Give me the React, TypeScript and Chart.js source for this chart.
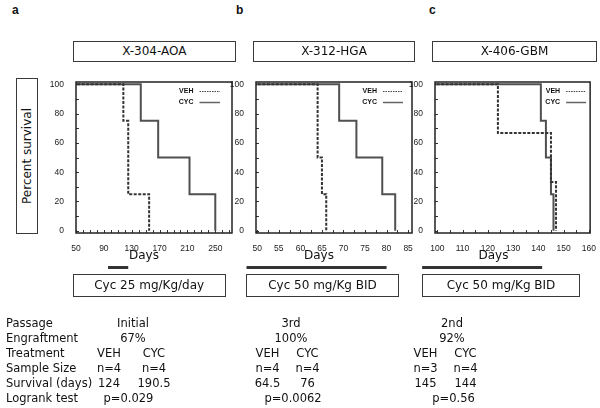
import React, { useEffect, useRef } from "react";
import { Chart, registerables } from "chart.js";

Chart.register(...registerables);

// ---------- DATA ----------
const panelLetters = ["a", "b", "c"];
const modelNames = ["X-304-AOA", "X-312-HGA", "X-406-GBM"];
const dosingLabels = ["Cyc 25 mg/Kg/day", "Cyc 50 mg/Kg BID", "Cyc 50 mg/Kg BID"];
const seriesLabels = ["VEH", "CYC"];
const yAxisTitle = "Percent survival";
const xAxisTitle = "Days";

// Kaplan-Meier steps: day of event, survival (%) after the event
const vehDaysA = [0, 118, 125, 155];
const vehSurvA = [100, 75, 25, 0];
const cycDaysA = [0, 143, 168, 213, 250];
const cycSurvA = [100, 75, 50, 25, 0];

const vehDaysB = [0, 64, 65, 66];
const vehSurvB = [100, 50, 25, 0];
const cycDaysB = [0, 69, 73, 79, 82];
const cycSurvB = [100, 75, 50, 25, 0];

const vehDaysC = [0, 124, 145, 147];
const vehSurvC = [100, 66.7, 33.3, 0];
const cycDaysC = [0, 141, 143, 145, 146];
const cycSurvC = [100, 75, 50, 25, 0];

const xTicksA = [50, 90, 130, 170, 210, 250];
const xTicksB = [50, 55, 60, 65, 70, 75, 80, 85];
const xTicksC = [100, 110, 120, 130, 140, 150, 160];
const yTicks = [0, 20, 40, 60, 80, 100];

// treatment periods (days)
const treatmentA = [96, 125];
const treatmentB = [47.5, 80];
const treatmentC = [94, 141.5];

// table
const rowLabels = ["Passage", "Engraftment", "Treatment", "Sample Size", "Survival (days)", "Logrank test"];
const passages = ["Initial", "3rd", "2nd"];
const engraftment = ["67%", "100%", "92%"];
const sampleVeh = ["n=4", "n=4", "n=3"];
const sampleCyc = ["n=4", "n=4", "n=4"];
const survivalVeh = ["124", "64.5", "145"];
const survivalCyc = ["190.5", "76", "144"];
const logrank = ["p=0.029", "p=0.0062", "p=0.56"];

// ---------- LAYOUT / STYLE ----------
const panelData = [
  { veh: [vehDaysA, vehSurvA], cyc: [cycDaysA, cycSurvA], xTicks: xTicksA, treat: treatmentA },
  { veh: [vehDaysB, vehSurvB], cyc: [cycDaysB, cycSurvB], xTicks: xTicksB, treat: treatmentB },
  { veh: [vehDaysC, vehSurvC], cyc: [cycDaysC, cycSurvC], xTicks: xTicksC, treat: treatmentC },
];

const panelLayout = [
  {
    letterX: 12, titleLeft: 72.7, titleW: 163.3, canvasLeft: 46, canvasW: 192,
    xMin: 50, xMax: 274, minorStep: 10, daysX: 144, doseLeft: 72.7, doseW: 153,
    legText: 38.5, legLine0: 32.5, legLine1: 12,
    colMid: 133, colVeh: 109, colCyc: 154, colP: 128.5,
  },
  {
    letterX: 236, titleLeft: 253, titleW: 162, canvasLeft: 226, canvasW: 192,
    xMin: 49.7, xMax: 85.9, minorStep: 2.5, daysX: 319, doseLeft: 246, doseW: 153,
    legText: 35, legLine0: 29, legLine1: 9,
    colMid: 291, colVeh: 267.5, colCyc: 307.5, colP: 293,
  },
  {
    letterX: 429, titleLeft: 432, titleW: 165, canvasLeft: 405, canvasW: 194,
    xMin: 99.1, xMax: 160.5, minorStep: 5, daysX: 493.5, doseLeft: 422.3, doseW: 157.5,
    legText: 30, legLine0: 24, legLine1: 4,
    colMid: 452, colVeh: 425.5, colCyc: 465.5, colP: 453.5,
  },
];

const CANVAS_TOP = 70;
const CANVAS_H = 205;
const PAD_TOP = 12;
const PLOT_H = 151;
const XAXIS_H = 20;
const YAXIS_W = 30;

const VEH_COLOR = "#333333";
const CYC_COLOR = "#505050";
const NARROW = "'Liberation Sans Narrow', 'Liberation Sans', Arial, sans-serif";
const TICK_FONT = { family: NARROW, size: 8.5 };
const TABLE_SIZE = 11.5;

const decoPlugin = {
  id: "survivalDeco",
  beforeDatasetsDraw(chart: any, _args: any, opts: any) {
    const { ctx, chartArea: ca, scales } = chart;
    ctx.save();
    ctx.strokeStyle = "#333";
    ctx.lineWidth = 1;
    ctx.beginPath();
    for (let v = opts.minorStart; v <= scales.x.max + 1e-6; v += opts.minorStep) {
      const px = Math.round(scales.x.getPixelForValue(v)) + 0.5;
      ctx.moveTo(px, ca.bottom);
      ctx.lineTo(px, ca.bottom - 3);
    }
    for (let v = 0; v <= 100; v += 10) {
      const py = Math.round(scales.y.getPixelForValue(v)) + 0.5;
      ctx.moveTo(ca.left, py);
      ctx.lineTo(ca.left + 3, py);
    }
    ctx.stroke();
    ctx.restore();
  },
  afterDatasetsDraw(chart: any, _args: any, opts: any) {
    const { ctx, chartArea: ca, scales } = chart;
    ctx.save();
    // frame
    ctx.strokeStyle = "#222";
    ctx.lineWidth = 1.5;
    ctx.setLineDash([]);
    ctx.strokeRect(ca.left, ca.top, ca.right - ca.left, ca.bottom - ca.top);
    // legend
    ctx.font = "bold 7px " + NARROW;
    ctx.textAlign = "right";
    ctx.textBaseline = "middle";
    chart.data.datasets.forEach((ds: any, i: number) => {
      const y = ca.top + 9 + i * 11;
      ctx.fillStyle = "#111";
      ctx.fillText(ds.label, ca.right - opts.legText, y);
      ctx.beginPath();
      if (i === 0) {
        ctx.setLineDash([1.5, 1]);
        ctx.lineWidth = 1;
        ctx.strokeStyle = "#444";
      } else {
        ctx.setLineDash([]);
        ctx.lineWidth = 1.5;
        ctx.strokeStyle = "#666";
      }
      ctx.moveTo(ca.right - opts.legLine0, y + 0.5);
      ctx.lineTo(ca.right - opts.legLine1, y + 0.5);
      ctx.stroke();
    });
    // treatment bar
    const x0 = scales.x.getPixelForValue(opts.treat[0]);
    const x1 = scales.x.getPixelForValue(opts.treat[1]);
    ctx.fillStyle = "#333";
    ctx.fillRect(x0, ca.bottom + 33, x1 - x0, 3);
    ctx.restore();
  },
};

function SurvivalChart({ idx }: { idx: number }) {
  const ref = useRef<HTMLCanvasElement | null>(null);
  useEffect(() => {
    const d = panelData[idx];
    const L = panelLayout[idx];
    const toPts = (days: number[], surv: number[]) => days.map((x, i) => ({ x, y: surv[i] }));
    const chart = new Chart(ref.current as HTMLCanvasElement, {
      type: "line",
      data: {
        datasets: [
          {
            label: seriesLabels[0],
            data: toPts(d.veh[0], d.veh[1]),
            stepped: true,
            borderColor: VEH_COLOR,
            borderWidth: 2,
            borderDash: [3, 1.5],
            pointRadius: 0,
            fill: false,
          },
          {
            label: seriesLabels[1],
            data: toPts(d.cyc[0], d.cyc[1]),
            stepped: true,
            borderColor: CYC_COLOR,
            borderWidth: 2,
            pointRadius: 0,
            fill: false,
          },
        ],
      },
      options: {
        responsive: false,
        maintainAspectRatio: false,
        animation: false,
        events: [],
        layout: {
          padding: { left: 0, right: 6, top: PAD_TOP, bottom: CANVAS_H - PAD_TOP - PLOT_H - XAXIS_H },
        },
        scales: {
          x: {
            type: "linear",
            min: L.xMin,
            max: L.xMax,
            grid: { display: false },
            border: { display: false },
            afterBuildTicks: (s: any) => {
              s.ticks = d.xTicks.map((v) => ({ value: v }));
            },
            afterFit: (s: any) => {
              s.height = XAXIS_H;
            },
            ticks: { font: TICK_FONT, color: "#222", padding: 3, autoSkip: false, maxRotation: 0 },
          },
          y: {
            type: "linear",
            min: -1.5,
            max: 101.5,
            grid: { display: false },
            border: { display: false },
            afterBuildTicks: (s: any) => {
              s.ticks = yTicks.map((v) => ({ value: v }));
            },
            afterFit: (s: any) => {
              s.width = YAXIS_W;
            },
            ticks: { font: TICK_FONT, color: "#222", padding: 4 },
          },
        },
        plugins: {
          legend: { display: false },
          tooltip: { enabled: false },
          survivalDeco: {
            minorStart: d.xTicks[0],
            minorStep: L.minorStep,
            legText: L.legText,
            legLine0: L.legLine0,
            legLine1: L.legLine1,
            treat: d.treat,
          },
        } as any,
      },
      plugins: [decoPlugin],
    } as any);
    return () => chart.destroy();
  }, [idx]);
  const L = panelLayout[idx];
  return (
    <canvas
      ref={ref}
      width={L.canvasW}
      height={CANVAS_H}
      style={{ position: "absolute", left: L.canvasLeft, top: CANVAS_TOP, width: L.canvasW, height: CANVAS_H, display: "block" }}
    />
  );
}

function T({ x, y, children, align = "center", size = 12, bold = false, family }: any) {
  const style: any = {
    position: "absolute",
    top: y - 7,
    lineHeight: "14px",
    fontSize: size,
    fontWeight: bold ? "bold" : "normal",
    whiteSpace: "nowrap",
    textAlign: align,
  };
  if (family) style.fontFamily = family;
  if (align === "center") {
    style.left = x - 100;
    style.width = 200;
  } else {
    style.left = x;
  }
  return <div style={style}>{children}</div>;
}

function Box({ left, top, width, height, children }: any) {
  return (
    <div
      style={{
        position: "absolute",
        left,
        top,
        width,
        height,
        boxSizing: "border-box",
        border: "1px solid #3a3a3a",
        display: "flex",
        alignItems: "center",
        justifyContent: "center",
        fontSize: 12,
        lineHeight: "14px",
        whiteSpace: "nowrap",
      }}
    >
      {children}
    </div>
  );
}

export default function App() {
  const rowY = (i: number) => 322.5 + 15 * i;
  return (
    <div
      style={{
        position: "absolute",
        left: 0,
        top: 0,
        width: 600,
        height: 408,
        background: "#fff",
        overflow: "hidden",
        fontFamily: "'DejaVu Sans', Verdana, sans-serif",
        color: "#111",
      }}
    >
      {panelLayout.map((L, i) => (
        <React.Fragment key={i}>
          <T x={L.letterX} y={10} align="left" size={12} bold family="'Liberation Sans', Arial, sans-serif">
            {panelLetters[i]}
          </T>
          <Box left={L.titleLeft} top={40.7} width={L.titleW} height={21.6}>
            {modelNames[i]}
          </Box>
          <SurvivalChart idx={i} />
          <T x={L.daysX} y={255}>{xAxisTitle}</T>
          <Box left={L.doseLeft} top={274.3} width={L.doseW} height={22.4}>
            {dosingLabels[i]}
          </Box>
          <T x={L.colMid} y={rowY(0)} size={TABLE_SIZE}>{passages[i]}</T>
          <T x={L.colMid} y={rowY(1)} size={TABLE_SIZE}>{engraftment[i]}</T>
          <T x={L.colVeh} y={rowY(2)} size={TABLE_SIZE}>{seriesLabels[0]}</T>
          <T x={L.colCyc} y={rowY(2)} size={TABLE_SIZE}>{seriesLabels[1]}</T>
          <T x={L.colVeh} y={rowY(3)} size={TABLE_SIZE}>{sampleVeh[i]}</T>
          <T x={L.colCyc} y={rowY(3)} size={TABLE_SIZE}>{sampleCyc[i]}</T>
          <T x={L.colVeh} y={rowY(4)} size={TABLE_SIZE}>{survivalVeh[i]}</T>
          <T x={L.colCyc} y={rowY(4)} size={TABLE_SIZE}>{survivalCyc[i]}</T>
          <T x={L.colP} y={rowY(5)} size={TABLE_SIZE}>{logrank[i]}</T>
        </React.Fragment>
      ))}
      <div
        style={{
          position: "absolute",
          left: 16,
          top: 78,
          width: 22,
          height: 156,
          boxSizing: "border-box",
          border: "1px solid #3a3a3a",
          display: "flex",
          alignItems: "center",
          justifyContent: "center",
        }}
      >
        <span style={{ writingMode: "vertical-rl", transform: "rotate(180deg)", fontSize: 12, lineHeight: "14px", whiteSpace: "nowrap" }}>
          {yAxisTitle}
        </span>
      </div>
      {rowLabels.map((r, i) => (
        <T key={r} x={6} y={rowY(i)} align="left" size={TABLE_SIZE}>
          {r}
        </T>
      ))}
    </div>
  );
}
